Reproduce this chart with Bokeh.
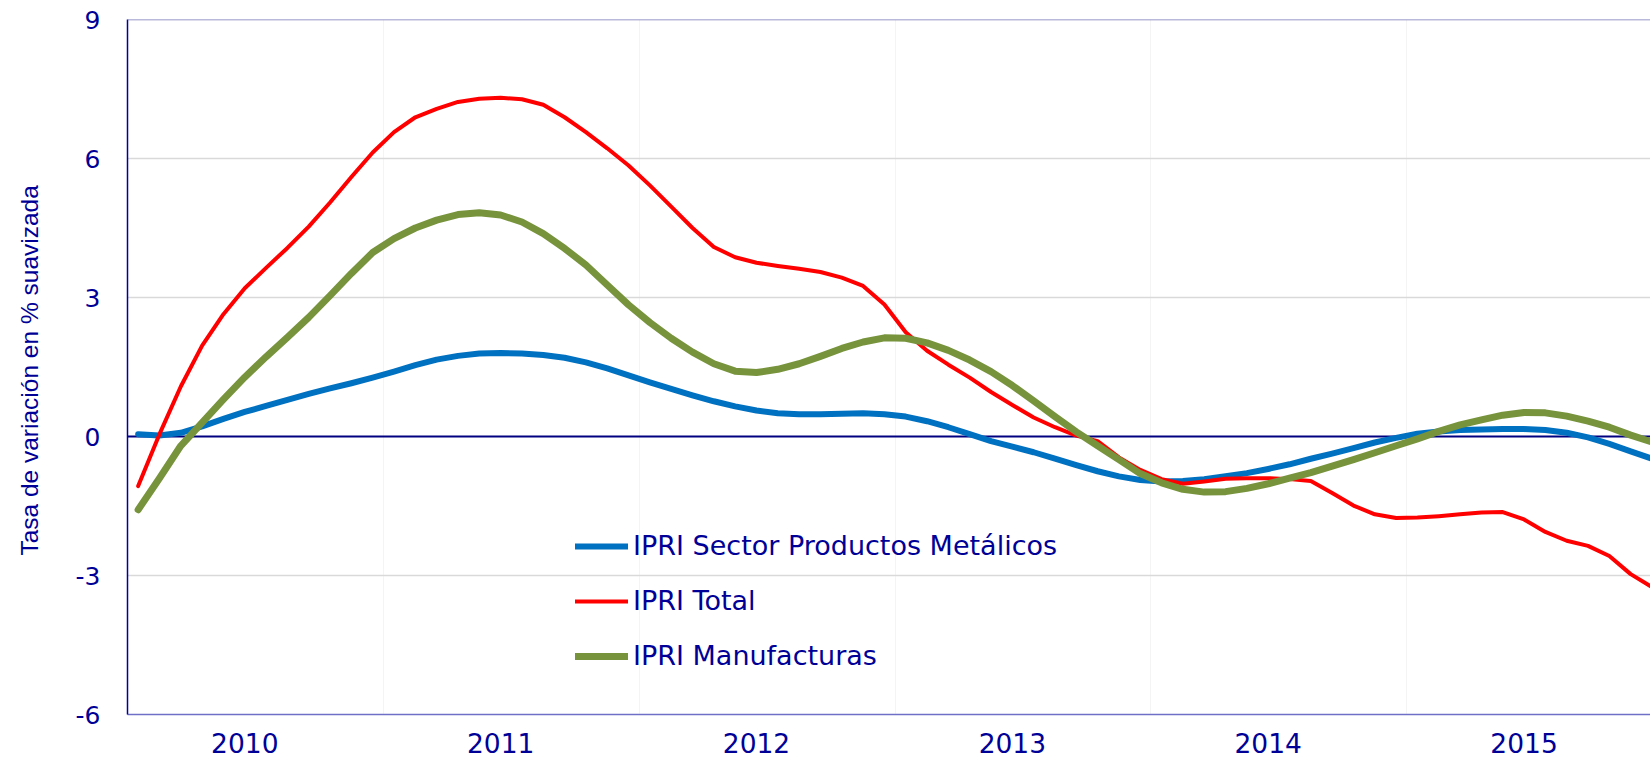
from bokeh.plotting import figure
from bokeh.models import Range1d, FixedTicker, Span, Legend, LegendItem
from bokeh.embed import file_html
from bokeh.resources import INLINE

# ---------------- data (monthly, Jan 2010 onwards) ----------------
YEARS = ["2010", "2011", "2012", "2013", "2014", "2015"]

METALICOS = [0.05, 0.02, 0.08, 0.22, 0.38, 0.53, 0.66, 0.79, 0.92, 1.04, 1.15, 1.27,
             1.40, 1.54, 1.66, 1.74, 1.79, 1.80, 1.79, 1.76, 1.70, 1.60, 1.47, 1.32,
             1.17, 1.03, 0.89, 0.76, 0.65, 0.56, 0.50, 0.48, 0.48, 0.49, 0.50, 0.48,
             0.43, 0.33, 0.20, 0.05, -0.10, -0.22, -0.34, -0.48, -0.62, -0.75, -0.86, -0.94,
             -0.97, -0.96, -0.92, -0.86, -0.79, -0.70, -0.60, -0.48, -0.37, -0.25, -0.13, -0.03,
             0.06, 0.11, 0.14, 0.15, 0.16, 0.16, 0.14, 0.08, -0.02, -0.16, -0.32, -0.48]

TOTAL = [-1.07, 0.05, 1.08, 1.96, 2.64, 3.20, 3.64, 4.07, 4.53, 5.05, 5.60, 6.13,
         6.57, 6.89, 7.07, 7.22, 7.29, 7.31, 7.28, 7.16, 6.89, 6.57, 6.22, 5.85,
         5.42, 4.96, 4.50, 4.09, 3.87, 3.75, 3.68, 3.62, 3.55, 3.43, 3.25, 2.85,
         2.25, 1.85, 1.55, 1.27, 0.96, 0.68, 0.41, 0.20, 0.02, -0.10, -0.45, -0.72,
         -0.92, -1.02, -0.97, -0.91, -0.90, -0.90, -0.92, -0.96, -1.22, -1.49, -1.68, -1.76,
         -1.75, -1.72, -1.68, -1.64, -1.63, -1.79, -2.06, -2.25, -2.36, -2.58, -2.97, -3.25]

MANUFACTURAS = [-1.58, -0.90, -0.20, 0.30, 0.80, 1.28, 1.72, 2.14, 2.57, 3.04, 3.52, 3.97,
                4.27, 4.50, 4.67, 4.79, 4.83, 4.78, 4.63, 4.38, 4.06, 3.70, 3.27, 2.84,
                2.46, 2.12, 1.82, 1.57, 1.41, 1.38, 1.45, 1.57, 1.73, 1.90, 2.04, 2.13,
                2.12, 2.02, 1.86, 1.65, 1.40, 1.10, 0.77, 0.43, 0.10, -0.20, -0.50, -0.80,
                -1.00, -1.14, -1.20, -1.19, -1.12, -1.02, -0.90, -0.78, -0.64, -0.50, -0.35, -0.20,
                -0.05, 0.11, 0.25, 0.36, 0.46, 0.52, 0.51, 0.44, 0.33, 0.20, 0.03, -0.12]

SERIES_NAMES = ["IPRI Sector Productos Metálicos", "IPRI Total", "IPRI Manufacturas"]
Y_TICKS = [-6, -3, 0, 3, 6, 9]

months = list(range(len(TOTAL)))
year_label_pos = [12 * i + 5 for i in range(len(YEARS))]
year_bounds = [12 * i - 0.5 for i in range(1, len(YEARS))]

NAVY = "#000096"

p = figure(width=1650, height=757, output_backend="svg", toolbar_location=None,
           x_range=Range1d(-0.5, 70.93), y_range=Range1d(-6, 9),
           min_border_left=127, min_border_right=0, min_border_top=19,
           min_border_bottom=43)
p.outline_line_color = None
p.background_fill_color = "white"
p.border_fill_color = "white"

# grids
p.ygrid.ticker = FixedTicker(ticks=[-3, 3, 6])
p.ygrid.grid_line_color = "#D9D9D9"
p.ygrid.grid_line_width = 1.5
p.xgrid.ticker = FixedTicker(ticks=year_bounds)
p.xgrid.grid_line_color = "#F4F4F4"
p.xgrid.grid_line_width = 1

# zero line and top border
zero = Span(location=0, dimension="width", line_color="#000080", line_width=2.2,
            level="underlay")
p.add_layout(zero)
top = Span(location=9, dimension="width", line_color="#7474B8", line_width=1.5)
p.add_layout(top)

# axes
xa = p.xaxis[0]
xa.ticker = FixedTicker(ticks=year_label_pos)
xa.major_label_overrides = {pos: y for pos, y in zip(year_label_pos, YEARS)}
xa.major_tick_out = 0
xa.major_tick_in = 0
xa.minor_tick_out = 0
xa.minor_tick_in = 0
xa.axis_line_color = "#6F6FC8"
xa.axis_line_width = 1.5
xa.major_label_text_font = "DejaVu Sans"
xa.major_label_text_font_size = "26.5px"
xa.major_label_text_color = NAVY
xa.major_label_standoff = 18

ya = p.yaxis[0]
ya.ticker = FixedTicker(ticks=Y_TICKS)
ya.major_label_overrides = {t: str(t) for t in Y_TICKS}
ya.major_tick_out = 0
ya.major_tick_in = 0
ya.minor_tick_out = 0
ya.minor_tick_in = 0
ya.axis_line_color = "#0000A0"
ya.axis_line_width = 1.5
ya.major_label_text_font = "DejaVu Sans"
ya.major_label_text_font_size = "25px"
ya.major_label_text_color = NAVY
ya.major_label_standoff = 27
ya.axis_label = "Tasa de  variación en % suavizada"
ya.axis_label_text_font = "Liberation Sans"
ya.axis_label_text_font_size = "24.5px"
ya.axis_label_text_font_style = "normal"
ya.axis_label_text_color = NAVY
ya.axis_label_standoff = 30

# series
r_blue = p.line(months, METALICOS, line_color="#0070C0", line_width=6,
                line_cap="round", line_join="round")
r_red = p.line(months, TOTAL, line_color="#FF0000", line_width=4,
               line_cap="round", line_join="round")
r_green = p.line(months, MANUFACTURAS, line_color="#77933C", line_width=7,
                 line_cap="round", line_join="round")

legend = Legend(items=[LegendItem(label=SERIES_NAMES[0], renderers=[r_blue]),
                       LegendItem(label=SERIES_NAMES[1], renderers=[r_red]),
                       LegendItem(label=SERIES_NAMES[2], renderers=[r_green])],
                location=(448, 43), glyph_width=53, glyph_height=30,
                label_height=30, spacing=24, label_standoff=5, padding=0,
                margin=0, border_line_color=None, background_fill_alpha=0,
                label_text_font="DejaVu Sans", label_text_font_size="27px",
                label_text_color=NAVY)
p.add_layout(legend)

open("out.html", "w").write(file_html(p, INLINE))
